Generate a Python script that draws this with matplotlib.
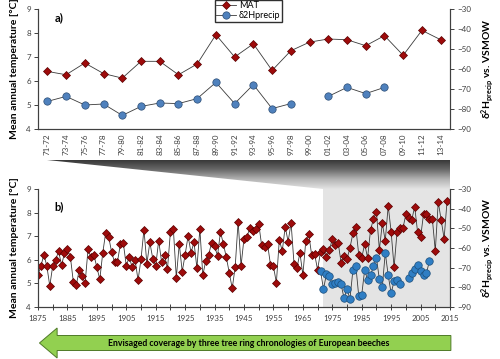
import numpy as np
import matplotlib
matplotlib.use('Agg')
import matplotlib.pyplot as plt
from matplotlib.patches import Polygon
import matplotlib.transforms as mtransforms

plt.rcParams['font.family'] = ['Lato', 'DejaVu Sans']
plt.rcParams['mathtext.fontset'] = 'custom'
plt.rcParams['mathtext.rm'] = 'Lato'
plt.rcParams['mathtext.bf'] = 'Lato:bold'

# a) two-year means
periods = ['71-72', '73-74', '75-76', '77-78', '79-80', '81-82', '83-84', '85-86',
           '87-88', '89-90', '91-92', '93-94', '95-96', '97-98', '99-00', '01-02',
           '03-04', '05-06', '07-08', '09-10', '11-12', '13-14']
mat_2yr = [6.40, 6.26, 6.75, 6.31, 6.12, 6.82, 6.82, 6.26, 6.71, 7.93, 7.00,
           7.55, 6.44, 7.26, 7.62, 7.75, 7.72, 7.47, 7.89, 7.07, 8.11, 7.72]
d2h_2yr = [-76.2, -73.7, -78.0, -77.5, -83.2, -78.7, -77.0, -77.3, -74.8, -66.7, -77.3,
           -67.8, -79.8, -77.3, np.nan, -73.7, -69.2, -72.3, -69.2, np.nan, np.nan, np.nan]

# b) annual values
years = np.arange(1875, 2015)
mat_annual = [5.37, 5.74, 6.22, 5.74, 4.89, 5.74, 5.99, 6.37, 5.77, 6.28,
              6.46, 6.13, 5.07, 4.92, 5.57, 5.31, 5.00, 6.44, 6.10, 6.20,
              5.68, 5.17, 6.29, 7.15, 6.98, 6.34, 5.90, 5.92, 6.66, 6.70,
              5.75, 6.12, 5.68, 5.98, 5.14, 6.02, 7.28, 5.84, 6.74, 6.05,
              5.74, 6.81, 5.91, 6.20, 5.62, 7.19, 7.29, 5.24, 6.68, 5.50,
              6.22, 7.01, 6.30, 6.75, 5.65, 7.31, 5.34, 5.96, 6.22, 6.73,
              6.58, 6.17, 7.18, 6.67, 6.10, 5.45, 4.79, 5.69, 7.62, 5.75,
              6.90, 6.97, 7.36, 7.23, 7.32, 7.53, 6.61, 6.53, 6.67, 5.79,
              5.72, 5.03, 6.85, 6.37, 7.40, 6.77, 7.57, 5.82, 5.65, 6.30,
              5.36, 6.80, 7.08, 6.20, 6.24, 5.58, 6.33, 6.44, 6.12, 6.40,
              6.88, 6.63, 6.72, 5.88, 6.16, 6.04, 6.50, 7.12, 7.38, 6.20,
              6.07, 6.68, 6.08, 7.27, 7.73, 8.04, 6.42, 7.55, 6.80, 8.29,
              7.18, 5.68, 7.18, 7.33, 7.33, 7.93, 7.79, 7.69, 8.25, 7.16,
              6.95, 7.93, 7.95, 7.74, 7.74, 6.37, 8.46, 7.67, 6.90, 8.49]
d2h_years = np.arange(1971, 2009)
d2h_annual = [-71.5, -80.9, -73.4, -74.3, -78.4, -78.0, -77.4, -78.5, -85.6, -80.9,
              -85.9, -71.4, -69.0, -84.6, -83.8, -71.2, -76.3, -73.7, -69.4, -64.9,
              -76.0, -79.8, -62.4, -73.9, -83.0, -76.8, -76.3, -78.4, np.nan, np.nan,
              -75.1, -72.7, -70.8, -68.8, -71.5, -73.7, -72.8, -66.6]
shade_start = 1971.7

RED = '#9e0b0b'
RED_EDGE = '#5a0000'
BLUE_A = '#4f81bd'
BLUE_B = '#2f7ec4'
EDGE_B = '#1d4e7a'
LINE = '#3a3a3a'
AXC = '#404040'
LBL = 'Mean annual temperature [°C]'
RLBL = r'$\mathbf{\delta^{2}H_{precip}}$ vs. VSMOW'


def style(ax, ax2):
    ax.set_facecolor('none')
    ax2.set_facecolor('none')
    for a in (ax, ax2):
        a.spines['top'].set_visible(False)
        for s in ('left', 'right', 'bottom'):
            a.spines[s].set_color(AXC)
            a.spines[s].set_linewidth(0.8)
    ax.set_ylim(4, 9)
    ax.set_yticks(range(4, 10))
    ax2.set_ylim(-90, -30)
    ax2.set_yticks(range(-90, -29, 10))
    ax.tick_params(axis='y', direction='out', length=3, width=0.7, color=AXC,
                   labelsize=5.8, labelcolor='#404040', pad=2)
    ax2.tick_params(axis='y', direction='out', length=3, width=0.7, color=AXC,
                    labelsize=5.8, labelcolor='#404040', pad=2)
    ax.set_ylabel(LBL, fontsize=7.5, fontweight='bold', labelpad=5)
    ax2.set_ylabel(RLBL, fontsize=7.5, fontweight='bold', labelpad=6)


fig = plt.figure(figsize=(5, 3.59), dpi=100)
W, H = 500, 359
ax_top = fig.add_axes([38 / W, 1 - 129 / H, 412 / W, 120 / H])
ax_bot = fig.add_axes([38 / W, 1 - 307 / H, 412 / W, 118 / H])

# a)
xa = np.arange(len(periods))
ax_top2 = ax_top.twinx()
style(ax_top, ax_top2)
l1, = ax_top.plot(xa, mat_2yr, color=LINE, lw=0.6, marker='D', ms=4.4,
                  mfc=RED, mec=RED_EDGE, mew=0.5, label='MAT')
l2, = ax_top2.plot(xa, d2h_2yr, color=LINE, lw=0.6, marker='o', ms=5.3,
                   mfc=BLUE_A, mec='#2c4d75', mew=0.5, label='δ2Hprecip')
ax_top.set_xlim(-0.5, len(periods) - 0.5)
ax_top.set_xticks(xa)
ax_top.set_xticklabels(periods, rotation=90, fontsize=5.8, color='#404040')
ax_top.tick_params(axis='x', length=0, pad=3)
ax_top.text(0.04, 0.9, 'a)', transform=ax_top.transAxes, fontsize=8, fontweight='bold')
fig.legend([l1, l2], ['MAT', 'δ2Hprecip'], loc='upper center', bbox_to_anchor=(0.497, 1.0),
           fontsize=6.5, frameon=True, fancybox=False, edgecolor='#303030', framealpha=1,
           borderpad=0.15, handlelength=2.2, handletextpad=0.3, labelspacing=0.1,
           borderaxespad=0)

# b)
ax_bot2 = ax_bot.twinx()
style(ax_bot, ax_bot2)
ax_bot.axvspan(shade_start, 2015, color='#e4e4e4', lw=0, zorder=0)
ax_bot.plot(years, mat_annual, color=LINE, lw=0.6, marker='D', ms=4.4,
            mfc=RED, mec=RED_EDGE, mew=0.5, zorder=3)
ax_bot2.plot(d2h_years, d2h_annual, color=LINE, lw=0.6, marker='o', ms=5.4,
             mfc=BLUE_B, mec=EDGE_B, mew=0.5, zorder=3)
ax_bot.set_xlim(1875, 2015)
ax_bot.set_xticks(range(1875, 2016, 10))
ax_bot.set_xticks(range(1880, 2015, 10), minor=True)
ax_bot.tick_params(axis='x', which='both', direction='inout', length=4, width=0.7,
                   color=AXC, labelsize=5.8, labelcolor='#404040', pad=4)
ax_bot.text(0.04, 0.82, 'b)', transform=ax_bot.transAxes, fontsize=8, fontweight='bold')

# zoom connector between the panels
bg = fig.add_axes([0, 0, 1, 1], zorder=-5)
bg.set_xlim(0, W)
bg.set_ylim(0, H)
bg.axis('off')
tip_x = ax_top.transData.transform((0, 4))[0]
top_y = ax_top.transAxes.transform((0, 0))[1] - 31
right_x = ax_bot.transAxes.transform((1, 1))[0]
bot_y = ax_bot.transAxes.transform((1, 1))[1]
span_x = ax_bot.transData.transform((shade_start, 4))[0]
grad = np.linspace(0, 1, 256).reshape(-1, 1)
img = bg.imshow(grad, extent=[tip_x, right_x, bot_y, top_y], aspect='auto',
                cmap=matplotlib.colors.LinearSegmentedColormap.from_list(
                    'g', ['#383838', '#6a6a6a', '#b4b4b4', '#e4e4e4']), origin='upper')
poly = Polygon([(tip_x, top_y), (right_x, top_y), (right_x, bot_y), (span_x, bot_y)],
               closed=True, facecolor='none', edgecolor='none')
bg.add_patch(poly)
img.set_clip_path(poly)

# arrow at the bottom
tr = mtransforms.blended_transform_factory(ax_bot.transData, fig.transFigure)
x_tip, x_head, x_end = 1875.5, 1881.5, 2015.3
yc, yh, yb = 1 - 343 / H, 15 / H, 7.5 / H
arrow = Polygon([(x_tip, yc), (x_head, yc + yh), (x_head, yc + yb), (x_end, yc + yb),
                 (x_end, yc - yb), (x_head, yc - yb), (x_head, yc - yh)],
                closed=True, transform=tr, facecolor='#92d050', edgecolor='#4f7a28',
                lw=0.7, clip_on=False)
fig.add_artist(arrow)
fig.text(0.498, yc, 'Envisaged coverage by three tree ring chronologies of European beeches',
         ha='center', va='center', fontsize=6.3, fontweight='bold')

fig.savefig('out.png', dpi=100)
